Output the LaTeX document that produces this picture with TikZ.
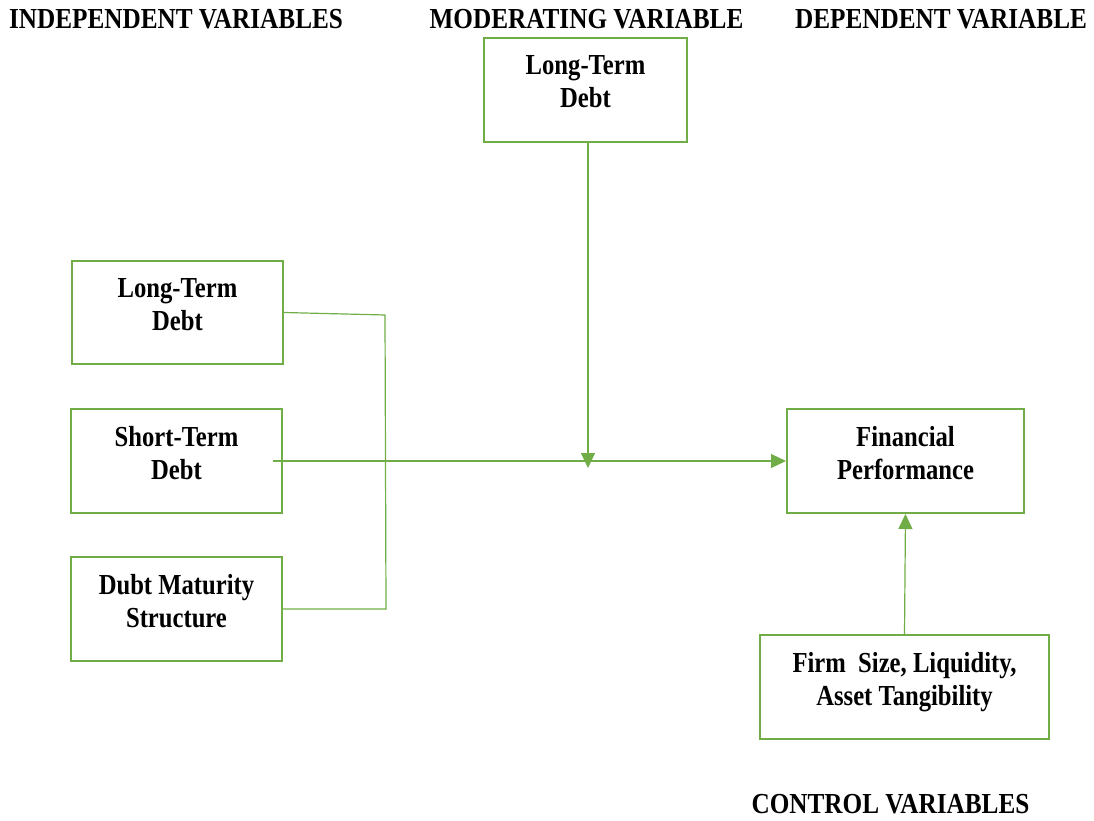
\documentclass[tikz,border=0pt]{standalone}
\usepackage{fontspec}
\setmainfont{Liberation Serif}[FakeStretch=0.85]
\newfontfamily\headfont{Liberation Serif}[FakeStretch=0.87]
\usetikzlibrary{arrows.meta}
\definecolor{boxgreen}{HTML}{70AD47}
\newcommand\lowpad{\rule[-16pt]{0pt}{0pt}}
\begin{document}
\begin{tikzpicture}[x=1pt,y=-1pt,
  every node/.style={font=\fontsize{29}{33}\selectfont\bfseries},
  varbox/.style={draw=boxgreen,line width=2pt,fill=white,align=center,inner sep=0pt},
  heading/.style={anchor=base,inner sep=0pt,font=\headfont\fontsize{29}{33}\selectfont\bfseries},
  conn/.style={draw=boxgreen,line width=1.2pt},
  arr/.style={conn,-{Triangle[length=15pt,width=14pt]}}]
\useasboundingbox (0,0) rectangle (1094,821);

% headings
\node[heading] (hind) at (176,29) {INDEPENDENT VARIABLES};
\node[heading] (hmod) at (586.5,29) {MODERATING VARIABLE};
\node[heading] (hdep) at (941,29) {DEPENDENT VARIABLE};
\node[heading] (hctl) at (890.5,813) {CONTROL VARIABLES};

% boxes
\node[varbox,minimum width=203pt,minimum height=104pt] (mod) at (585.5,90) {Long-Term\\Debt\lowpad};
\node[varbox,minimum width=211pt,minimum height=103pt] (ltd) at (177.5,312.5) {Long-Term\\Debt\lowpad};
\node[varbox,minimum width=211pt,minimum height=104pt] (std) at (176.5,461) {Short-Term\\Debt\lowpad};
\node[varbox,minimum width=211pt,minimum height=104pt] (dms) at (176.5,609) {Dubt Maturity\\Structure\lowpad};
\node[varbox,minimum width=237pt,minimum height=104pt] (fp) at (905.5,461) {Financial\\Performance\lowpad};
\node[varbox,minimum width=289pt,minimum height=104pt] (ctl) at (904.5,687) {Firm\ \ Size, Liquidity,\\Asset Tangibility\lowpad};

% connectors
\coordinate (jt) at (385,315);
\coordinate (jb) at (386,609);
\coordinate (mtip) at (588,468);
\draw[conn] (ltd.east) -- (jt) -- (jb) -- (dms.east);
\draw[arr] ([xshift=-10pt]std.east) -- (fp.west);
\draw[arr] (mod.south -| mtip) -- (mtip);
\draw[arr] (ctl.north) -- (fp.south);
\end{tikzpicture}
\end{document}
